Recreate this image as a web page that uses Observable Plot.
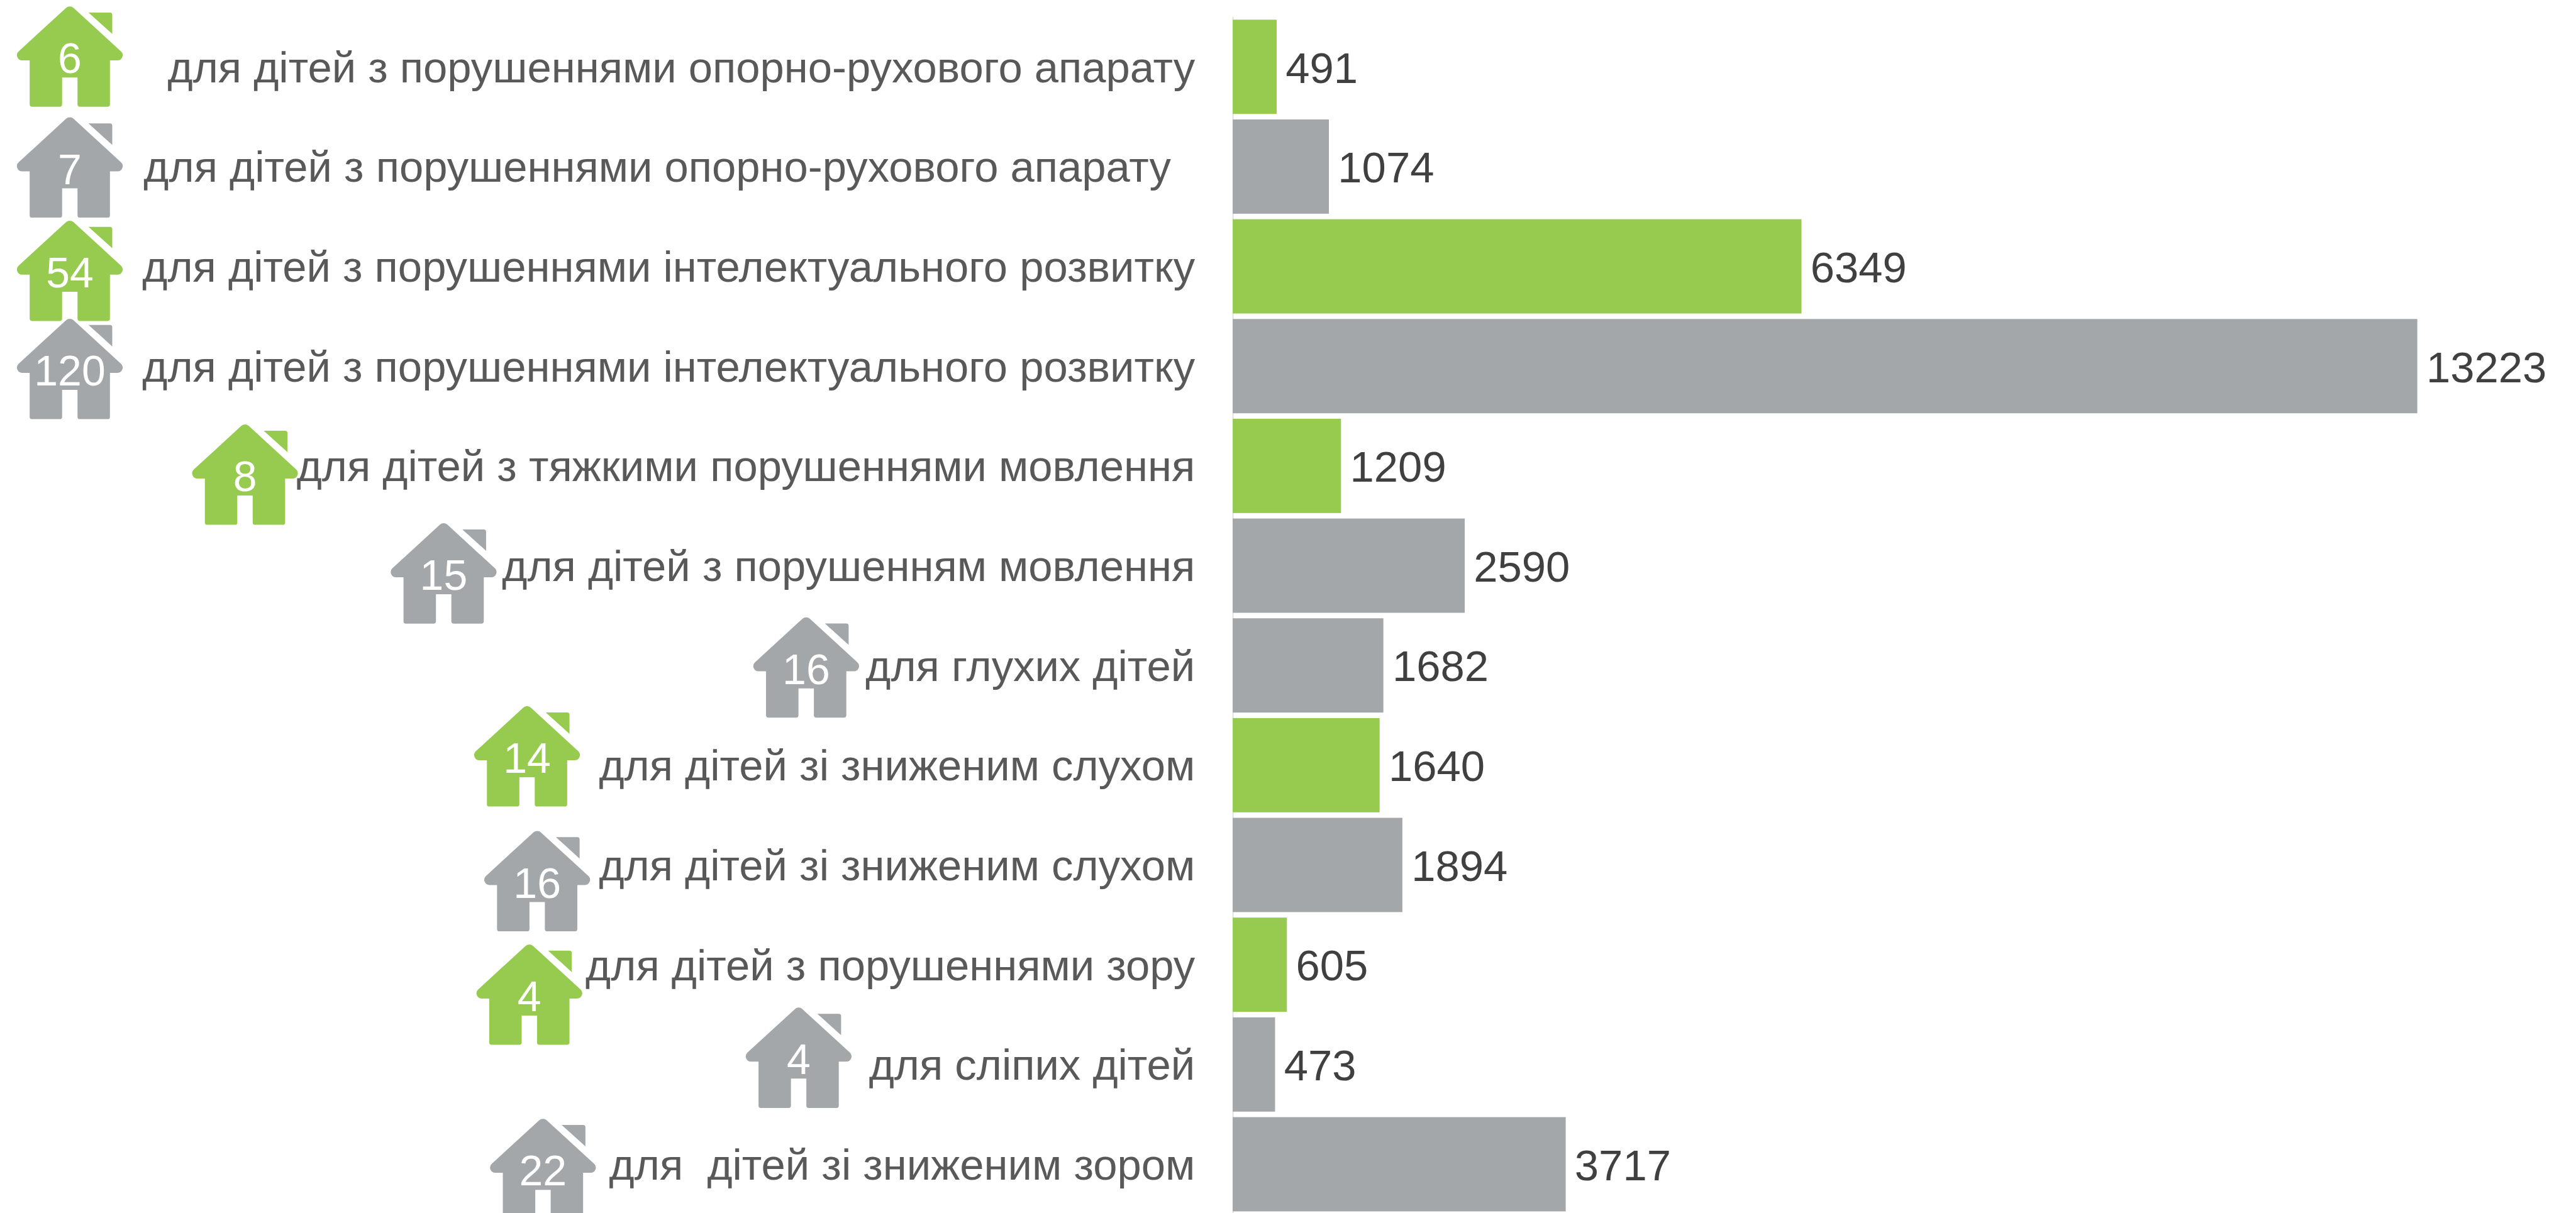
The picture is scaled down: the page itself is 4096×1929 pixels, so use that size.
<!DOCTYPE html>
<html lang="uk">
<head>
<meta charset="utf-8">
<title>Спеціальні школи</title>
<script src="https://cdn.jsdelivr.net/npm/d3@7"></script>
<script src="https://cdn.jsdelivr.net/npm/@observablehq/plot@0.6"></script>
<style>
html,body{margin:0;padding:0;background:#fff;overflow:hidden}
svg text{white-space:pre;font-family:"Liberation Sans",Arial,sans-serif}
</style>
</head>
<body>
<div id="chart"></div>
<script>
// ---- values ----
const labels = [
  "для дітей з порушеннями опорно-рухового апарату",
  "для дітей з порушеннями опорно-рухового апарату  ",
  "для дітей з порушеннями інтелектуального розвитку",
  "для дітей з порушеннями інтелектуального розвитку",
  "для дітей з тяжкими порушеннями мовлення",
  "для дітей з порушенням мовлення",
  "для глухих дітей",
  "для дітей зі зниженим слухом",
  "для дітей зі зниженим слухом",
  "для дітей з порушеннями зору",
  "для сліпих дітей",
  "для  дітей зі зниженим зором"
];
const values = [491, 1074, 6349, 13223, 1209, 2590, 1682, 1640, 1894, 605, 473, 3717];
const houses = [6, 7, 54, 120, 8, 15, 16, 14, 16, 4, 4, 22];
const groups = ["g", "s", "g", "s", "g", "s", "s", "g", "s", "g", "s", "s"];

// ---- layout, in reference pixels ----
const S = 4096 / 4448;
const houseX = [120, 120, 120, 120, 422.5, 765.5, 1391.5, 909.5, 927, 913.5, 1378.5, 937];
const houseY = [98, 289.5, 468, 637.5, 820, 990.5, 1153, 1306.5, 1522, 1718, 1827, 2019];
const GREEN = "#97cb50", GREY = "#a3a7aa";
// Plot shifts marks by half a band on a band scale, even for literal y values
const BAND_TOP = 34, BAND_BOTTOM = 2092, PAD = 0.055;
const halfBand = (BAND_BOTTOM - BAND_TOP) / (labels.length - PAD) * (1 - PAD) / 2;

const rows = labels.map((label, i) => ({
  id: String(i), label, value: values[i], house: String(houses[i]), group: groups[i],
  hx: houseX[i] * S, hy: (houseY[i] - halfBand) * S
}));

// House glyph as a custom Plot symbol: [x, y, corner radius]
const HOUSE_R = 91.3;
const body = [
  [0, -90.9, 9.5], [105.4, 5.8, 9], [69.3, 5.8, 0], [69.3, 85.8, 4], [13.3, 85.8, 4],
  [13.3, 35.2, 0], [-13.3, 35.2, 0], [-13.3, 85.8, 4], [-69.3, 85.8, 4],
  [-69.3, 5.8, 0], [-105.4, 5.8, 9]
];
const chimney = [[32.3, -76.8, 0], [73.3, -76.8, 4], [73.3, -39.8, 0]];
function poly(ctx, pts, k) {
  const n = pts.length;
  const a = pts[0], b = pts[n - 1];
  ctx.moveTo(k * (a[0] + b[0]) / 2, k * (a[1] + b[1]) / 2);
  for (let i = 0; i < n; ++i) {
    const p = pts[i], q = pts[(i + 1) % n];
    ctx.arcTo(k * p[0], k * p[1], k * q[0], k * q[1], k * p[2]);
  }
  ctx.closePath();
}
const houseSymbol = {
  draw(ctx, size) {
    const k = Math.sqrt(size / Math.PI) / HOUSE_R;
    poly(ctx, body, k);
    poly(ctx, chimney, k);
  }
};

const chart = Plot.plot({
  width: 4096,
  height: 1929,
  margin: 0,
  style: {background: "#fff"},
  x: {domain: [0, 13223], range: [2128.5 * S, 4174 * S], axis: null},
  y: {type: "band", domain: rows.map(d => d.id), range: [BAND_TOP * S, BAND_BOTTOM * S], round: false,
      paddingInner: PAD, paddingOuter: 0, axis: null},
  color: {domain: ["g", "s"], range: [GREEN, GREY]},
  marks: [
    Plot.ruleX([0], {stroke: "#d9d9d9", strokeWidth: 1.5, insetTop: 29 * S}),
    Plot.barX(rows, {x1: () => 0, x2: "value", y: "id", fill: "group"}),
    Plot.text(rows, {
      x: () => 0, y: "id", text: "label", textAnchor: "end", dx: -65.5 * S, dy: 2 * S,
      fontSize: 68.8, fill: "#595959"
    }),
    Plot.text(rows, {
      x: "value", y: "id", text: d => String(d.value), textAnchor: "start", dx: 15 * S, dy: 3 * S,
      fontSize: 68.8, fill: "#404040"
    }),
    Plot.dot(rows, {
      x: {value: "hx", scale: null}, y: {value: "hy", scale: null},
      symbol: houseSymbol, r: HOUSE_R * S, fill: "group", stroke: "none"
    }),
    Plot.text(rows, {
      x: {value: "hx", scale: null}, y: {value: "hy", scale: null}, text: "house",
      dy: 4 * S, fontSize: 68, fill: "#fff"
    })
  ]
});
document.getElementById("chart").appendChild(chart);
</script>
</body>
</html>
